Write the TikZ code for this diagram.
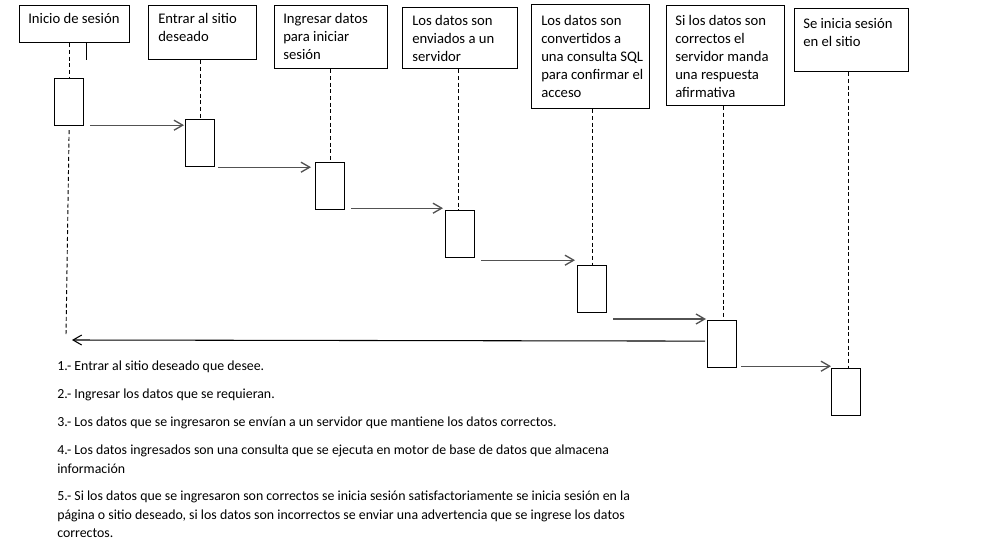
\documentclass[tikz,border=0pt]{standalone}
\usepackage{fontspec}
\setmainfont{Carlito}
\usetikzlibrary{arrows.meta,calc}
\begin{document}
\begin{tikzpicture}[x=0.75pt,y=-0.75pt,
  hdr/.style={draw, line width=0.9pt, anchor=north west, inner sep=0pt},
  act/.style={draw, line width=0.9pt, anchor=north west, inner sep=0pt,
    minimum width=29*0.75pt, minimum height=47*0.75pt},
  htext/.style={anchor=north west, align=left, inner sep=0pt,
    font=\fontsize{11pt}{13.5pt}\selectfont},
  ptext/.style={anchor=north west, align=left, inner sep=0pt,
    font=\fontsize{10.4pt}{13.9pt}\selectfont},
  life/.style={line width=0.7pt, dash pattern=on 3pt off 2pt},
  msg/.style={draw=black!68, line width=1pt, -{Straight Barb[length=6.5pt,width=7.5pt]}},
  ret/.style={draw=black, line width=0.8pt, -{Straight Barb[length=6.5pt,width=7.5pt]}}]
\useasboundingbox (0,0) rectangle (983,546);

% header boxes
\node[hdr, minimum width=110*0.75pt, minimum height=37*0.75pt] (H1) at (19,5) {};
\node[hdr, minimum width=108*0.75pt, minimum height=54*0.75pt] (H2) at (148,5) {};
\node[hdr, minimum width=113*0.75pt, minimum height=63*0.75pt] (H3) at (274,5) {};
\node[hdr, minimum width=115*0.75pt, minimum height=61*0.75pt] (H4) at (402,7) {};
\node[hdr, minimum width=118*0.75pt, minimum height=104*0.75pt] (H5) at (531,4) {};
\node[hdr, minimum width=118*0.75pt, minimum height=100*0.75pt] (H6) at (666,5) {};
\node[hdr, minimum width=114*0.75pt, minimum height=63*0.75pt] (H7) at (794,8) {};

% header texts
\node[htext] (T1) at (28,13) {Inicio de sesión};
\node[htext] (T2) at (158,13) {Entrar al sitio\\deseado};
\node[htext] (T3) at (283,13) {Ingresar datos\\para iniciar\\sesión};
\node[htext] (T4) at (412,15) {Los datos son\\enviados a un\\servidor};
\node[htext] (T5) at (541,15) {Los datos son\\convertidos a\\una consulta SQL\\para confirmar el\\acceso};
\node[htext] (T6) at (675,15) {Si los datos son\\correctos el\\servidor manda\\una respuesta\\afirmativa};
\node[htext] (T7) at (803,18) {Se inicia sesión\\en el sitio};

% activation boxes
\node[act] (A1) at (54,78) {};
\node[act] (A2) at (185,119) {};
\node[act] (A3) at (315,162) {};
\node[act] (A4) at (445,210) {};
\node[act] (A5) at (577,265) {};
\node[act] (A6) at (707,320) {};
\node[act] (A7) at (831,368) {};

% lifelines
\draw[life] (A1.north |- H1.south) -- (A1.north);
\coordinate (L1end) at (66,335);
\draw[life] ($(A1.south)+(0,4)$) -- (L1end);
\draw[life] (A2.north |- H2.south) -- (A2.north);
\draw[life] (A3.north |- H3.south) -- (A3.north);
\draw[life] ($(A4.north |- H4.south)+(-2,0)$) -- ($(A4.north)+(-2,0)$);
\draw[life] (A5.north |- H5.south) -- (A5.north);
\draw[life] ($(A6.north |- H6.south)+(1,0)$) -- ($(A6.north)+(1,0)$);
\draw[life] ($(A7.north |- H7.south)+(2,0)$) -- ($(A7.north)+(2,0)$);

% small solid tick below first header
\coordinate (tick) at (86,60);
\draw[line width=0.7pt] (tick |- H1.south) -- (tick);

% messages
\draw[msg] ($(A1.south east)+(6,-1)$) -- ($(A2.west |- A1.south east)+(-1,-1)$);
\draw[msg] ($(A2.south east)+(3,0)$) -- ($(A3.west |- A2.south east)+(-4,0)$);
\draw[msg] ($(A3.south east)+(6,-2)$) -- ($(A4.west |- A3.south east)+(-2,-2)$);
\draw[msg] ($(A4.south east)+(6,2)$) -- ($(A5.west |- A4.south east)+(-2,2)$);
\draw[msg] ($(A5.east |- A6.north)+(6,-1)$) -- ($(A6.north west)+(-1,-1)$);
\draw[msg] ($(A6.south east)+(4,-2)$) -- ($(A7.west |- A6.south east)+(0,-2)$);
\draw[ret] ($(A6.west)+(-2,-3)$) -- ($(L1end)+(6,5)$);

% notes
\node[ptext] (P1) at (57,361) {1.- Entrar al sitio deseado que desee.};
\node[ptext] (P2) at (57,389) {2.- Ingresar los datos que se requieran.};
\node[ptext] (P3) at (57,417) {3.- Los datos que se ingresaron se envían a un servidor que mantiene los datos correctos.};
\node[ptext] (P4) at (57,445) {4.- Los datos ingresados son una consulta que se ejecuta en motor de base de datos que almacena\\información};
\node[ptext] (P5) at (57,491) {5.- Si los datos que se ingresaron son correctos se inicia sesión satisfactoriamente se inicia sesión en la\\página o sitio deseado, si los datos son incorrectos se enviar una advertencia que se ingrese los datos\\correctos.};
\end{tikzpicture}
\end{document}
